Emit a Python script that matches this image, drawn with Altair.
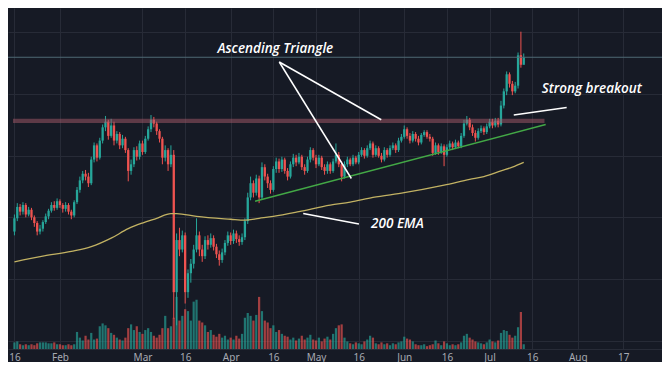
import altair as alt
import pandas as pd

# ---------------- data (price units arbitrary) ----------------
start_date = "2020-01-16"

opens = [13.4, 14.8, 16.0, 15.5, 16.2, 15.2, 15.7, 14.9, 14.3, 13.4,
         13.7, 14.4, 15.0, 15.6, 16.2, 15.9, 16.6, 16.2, 15.8, 16.2,
         15.5, 15.1, 16.5, 17.8, 18.8, 19.5, 19.2, 18.5, 21.0, 22.5,
         21.2, 23.0, 24.4, 25.0, 23.5, 24.6, 23.0, 23.7, 22.5, 23.2,
         22.0, 19.8, 20.5, 22.0, 21.3, 22.7, 21.8, 23.2, 24.2, 25.2,
         24.8, 24.0, 23.2, 21.2, 22.0, 20.5, 21.5, 7.0, 12.5, 11.5,
         13.0, 7.0, 9.0, 10.0, 11.5, 13.0, 11.5, 10.8, 12.5, 12.0,
         12.7, 11.8, 11.0, 10.4, 11.2, 12.2, 13.0, 12.4, 13.2, 12.6,
         12.3, 12.8, 14.5, 17.0, 18.5, 17.5, 19.0, 17.0, 20.2, 19.2,
         18.5, 17.8, 20.0, 20.8, 20.0, 21.0, 19.8, 19.2, 20.5, 21.2,
         20.7, 21.3, 20.2, 19.8, 21.0, 22.0, 21.2, 20.5, 21.2, 20.2,
         19.8, 20.5, 19.8, 20.8, 21.5, 20.5, 19.2, 20.5, 21.0, 20.5,
         21.2, 20.7, 21.5, 22.0, 21.4, 22.2, 22.7, 21.5, 22.2, 21.4,
         21.0, 22.0, 21.5, 22.2, 22.5, 22.0, 23.0, 23.4, 24.2, 23.5,
         23.0, 23.7, 23.2, 22.8, 23.6, 23.9, 23.4, 23.2, 21.7, 22.5,
         21.8, 22.4, 21.5, 22.3, 22.7, 22.3, 22.8, 22.4, 23.5, 24.8,
         25.2, 24.4, 23.8, 23.3, 24.0, 24.3, 23.9, 24.5, 25.0, 24.6,
         25.1, 24.7, 26.7, 28.2, 30.0, 29.0, 28.2, 28.8, 32.0, 31.0]

closes = [14.8, 16.0, 15.5, 16.2, 15.2, 15.7, 14.9, 14.3, 13.4, 13.7,
          14.4, 15.0, 15.6, 16.2, 15.9, 16.6, 16.2, 15.8, 16.2, 15.5,
          15.1, 16.5, 17.8, 18.8, 19.5, 19.2, 18.5, 21.0, 22.5, 21.2,
          23.0, 24.4, 25.0, 23.5, 24.6, 23.0, 23.7, 22.5, 23.2, 22.0,
          19.8, 20.5, 22.0, 21.3, 22.7, 21.8, 23.2, 24.2, 25.2, 24.8,
          24.0, 23.2, 21.2, 22.0, 20.5, 21.5, 7.0, 12.5, 11.5, 13.0,
          7.0, 9.0, 10.0, 11.5, 13.0, 11.5, 10.8, 12.5, 12.0, 12.7,
          11.8, 11.0, 10.4, 11.2, 12.2, 13.0, 12.4, 13.2, 12.6, 12.3,
          12.8, 14.5, 17.0, 18.5, 17.5, 19.0, 17.0, 20.2, 19.2, 18.5,
          17.8, 20.0, 20.8, 20.0, 21.0, 19.8, 19.2, 20.5, 21.2, 20.7,
          21.3, 20.2, 19.8, 21.0, 22.0, 21.2, 20.5, 21.2, 20.2, 19.8,
          20.5, 19.8, 20.8, 21.5, 20.5, 19.2, 20.5, 21.0, 20.5, 21.2,
          20.7, 21.5, 22.0, 21.4, 22.2, 22.7, 21.5, 22.2, 21.4, 21.0,
          22.0, 21.5, 22.2, 22.5, 22.0, 23.0, 23.4, 24.2, 23.5, 23.0,
          23.7, 23.2, 22.8, 23.6, 23.9, 23.4, 23.2, 21.7, 22.5, 21.8,
          22.4, 21.5, 22.3, 22.7, 22.3, 22.8, 22.4, 23.5, 24.8, 25.2,
          24.4, 23.8, 23.3, 24.0, 24.3, 23.9, 24.5, 25.0, 24.6, 25.1,
          24.7, 26.7, 28.2, 30.0, 29.0, 28.2, 28.8, 32.0, 31.0, 31.8]

highs = [15.2, 16.4, 16.3, 16.5, 16.4, 16.0, 15.9, 15.1, 14.5, 14.1,
         14.6, 15.3, 15.8, 16.5, 16.6, 16.9, 16.8, 16.4, 16.5, 16.4,
         15.7, 16.7, 18.1, 19.2, 19.8, 19.9, 19.6, 21.3, 22.8, 22.7,
         23.3, 24.7, 25.6, 25.2, 25.3, 25.0, 24.0, 23.9, 23.6, 23.4,
         22.2, 21.0, 22.3, 22.4, 23.0, 23.0, 23.5, 24.5, 25.7, 25.5,
         25.0, 24.2, 23.4, 22.5, 22.2, 22.5, 22.0, 13.2, 13.8, 13.5,
         13.3, 9.4, 10.5, 12.0, 14.8, 13.4, 12.0, 12.9, 13.0, 13.2,
         13.0, 12.1, 11.4, 11.6, 12.5, 13.4, 13.3, 13.6, 13.5, 13.0,
         13.2, 14.8, 17.5, 19.2, 18.8, 19.4, 19.3, 20.7, 20.5, 19.5,
         18.8, 20.3, 21.2, 21.1, 21.3, 21.2, 20.1, 20.8, 21.6, 21.5,
         21.7, 21.5, 20.5, 21.3, 22.3, 22.2, 21.5, 21.5, 21.4, 20.5,
         20.8, 20.7, 21.1, 22.7, 21.8, 20.8, 20.8, 21.3, 21.2, 21.5,
         21.4, 21.8, 22.3, 22.2, 22.5, 23.0, 22.9, 22.5, 22.4, 21.7,
         22.3, 22.2, 22.5, 22.8, 22.7, 23.3, 23.7, 24.6, 24.4, 23.8,
         24.0, 23.9, 23.5, 23.8, 24.1, 24.1, 23.7, 23.4, 22.8, 22.7,
         22.7, 22.6, 22.6, 23.0, 22.9, 23.1, 23.0, 23.8, 25.2, 25.6,
         25.4, 24.7, 24.1, 24.3, 24.6, 24.5, 24.8, 25.3, 25.3, 25.4,
         25.4, 27.2, 28.5, 30.3, 30.2, 29.3, 29.2, 32.3, 34.5, 32.2]

lows = [13.0, 14.5, 15.1, 15.2, 14.9, 15.0, 14.6, 13.9, 13.0, 13.1,
        13.4, 14.2, 14.7, 15.4, 15.6, 15.7, 15.9, 15.4, 15.5, 15.2,
        14.7, 14.9, 16.3, 17.5, 18.5, 18.8, 18.1, 18.3, 20.7, 20.8,
        21.0, 22.7, 24.0, 23.1, 23.3, 22.5, 22.7, 22.1, 22.2, 21.7,
        18.7, 19.4, 20.2, 20.9, 21.0, 21.5, 21.6, 23.0, 23.9, 24.4,
        23.6, 22.8, 20.5, 20.8, 19.8, 20.2, 4.2, 3.5, 10.8, 11.2,
        5.8, 6.4, 8.0, 9.5, 11.2, 10.8, 10.2, 10.5, 11.5, 11.7,
        11.4, 10.6, 9.8, 10.1, 10.9, 11.9, 12.0, 12.1, 12.2, 11.9,
        12.0, 12.5, 14.2, 16.7, 17.0, 17.2, 16.4, 16.8, 18.8, 18.0,
        17.4, 17.6, 19.6, 19.6, 19.7, 19.5, 18.8, 19.0, 20.2, 20.3,
        20.5, 19.9, 19.4, 19.6, 20.7, 20.9, 20.1, 20.3, 19.9, 19.4,
        19.5, 19.5, 19.6, 20.6, 20.2, 18.7, 19.0, 20.2, 20.3, 20.3,
        20.5, 20.5, 21.3, 21.1, 21.2, 22.0, 21.2, 21.3, 21.2, 20.7,
        20.8, 21.2, 21.3, 22.0, 21.7, 21.8, 22.8, 23.2, 23.2, 22.7,
        22.8, 22.9, 22.5, 22.6, 23.4, 23.2, 22.9, 21.4, 21.5, 21.5,
        21.6, 20.3, 21.3, 22.1, 22.0, 22.1, 22.2, 22.2, 23.3, 24.6,
        24.1, 23.5, 22.9, 23.1, 23.8, 23.6, 23.7, 24.3, 24.3, 24.4,
        24.4, 24.5, 26.4, 27.8, 28.6, 27.8, 28.0, 28.5, 30.7, 31.2]

volumes = [7, 8, 5, 4, 5, 4, 5, 4, 6, 7,
           7, 7, 6, 6, 7, 5, 5, 4, 4, 5,
           4, 5, 18, 12, 9, 14, 10, 17, 10, 11,
           24, 27, 25, 22, 17, 15, 12, 10, 9, 12,
           22, 26, 20, 24, 18, 16, 20, 22, 18, 14,
           12, 15, 22, 35, 22, 24, 33, 55, 30, 35,
           42, 40, 30, 50, 52, 30, 28, 25, 18, 20,
           15, 13, 16, 12, 14, 10, 12, 10, 14, 11,
           16, 33, 38, 35, 30, 36, 55, 40, 30, 28,
           22, 25, 18, 20, 16, 14, 13, 10, 12, 9,
           11, 14, 10, 12, 15, 10, 9, 12, 8, 11,
           13, 10, 16, 22, 25, 26, 12, 8, 6, 5,
           7, 6, 5, 8, 10, 14, 12, 6, 5, 7,
           5, 6, 4, 6, 5, 7, 8, 13, 11, 10,
           8, 5, 4, 4, 5, 3, 4, 5, 9, 6,
           4, 8, 6, 4, 5, 4, 5, 7, 14, 16,
           12, 10, 8, 7, 6, 5, 7, 10, 8, 7,
           9, 17, 20, 19, 15, 12, 14, 23, 39, 5]

ema_dates = ["2020-01-16", "2020-01-26", "2020-02-05", "2020-02-12", "2020-02-19",
             "2020-02-25", "2020-03-01", "2020-03-06", "2020-03-11", "2020-03-13",
             "2020-03-20", "2020-04-01", "2020-04-06", "2020-04-11", "2020-04-16",
             "2020-04-25", "2020-05-06", "2020-05-13", "2020-05-21", "2020-06-01",
             "2020-06-15", "2020-06-24", "2020-06-29", "2020-07-05", "2020-07-09",
             "2020-07-13"]
ema_values = [10.2, 10.8, 11.3, 11.8, 12.7, 13.7, 14.3, 14.8, 15.3, 15.3,
              15.0, 14.7, 14.6, 14.8, 15.0, 15.5, 16.2, 16.5, 17.0, 17.5,
              18.3, 18.9, 19.2, 19.8, 20.2, 20.7]

current_price = 31.8
resistance_low, resistance_high = 24.85, 25.3
resistance_end = "2020-07-20T07:00:00Z"

trend_start = ("2020-04-09T14:00:00Z", 16.6)
trend_end = ("2020-07-20T17:00:00Z", 24.7)

pointer_x = ["2020-04-18T02:00:00Z", "2020-04-18T02:00:00Z", "2020-04-26T12:00:00Z", "2020-07-09T12:00:00Z"]
pointer_y = [31.3, 31.3, 15.3, 25.7]
pointer_x2 = ["2020-05-13T10:00:00Z", "2020-05-23T22:00:00Z", "2020-05-16T02:00:00Z", "2020-07-28T02:00:00Z"]
pointer_y2 = [19.0, 25.2, 14.2, 26.5]

label_texts = ["Ascending Triangle", "200 EMA", "Strong breakout"]
label_x = ["2020-04-16T17:00:00Z", "2020-05-29T14:00:00Z", "2020-08-05T22:00:00Z"]
label_y = [32.7, 14.2, 28.4]

tick_dates = ["2020-01-16", "2020-02-01", "2020-03-01", "2020-03-16", "2020-04-01",
              "2020-04-16", "2020-05-01", "2020-05-16", "2020-06-01", "2020-06-16",
              "2020-07-01", "2020-07-16", "2020-08-01", "2020-08-17"]
grid_prices = [1.85, 3.48, 5.11, 6.74, 8.37, 10.0, 11.63, 13.26, 14.89, 16.52, 18.15,
               19.78, 21.41, 23.04, 24.67, 26.3, 27.93, 29.56, 31.19, 32.82, 34.45, 36.08]

x_start, x_end = "2020-01-15T12:00:00Z", "2020-08-28T20:00:00Z"
price_domain = [1, 37]
volume_domain = [0, 360]

# ---------------- styling ----------------
BG = "#161a25"
GRID = "#272b37"
UP = "#26a69a"
DOWN = "#ef5350"


def ms(s):
    t = pd.Timestamp(s)
    if t.tzinfo is None:
        t = t.tz_localize("UTC")
    return int(t.value // 10**6)


dates = pd.date_range(start_date, periods=len(closes), freq="D")
df = pd.DataFrame({
    "date": dates.strftime("%Y-%m-%dT00:00:00Z"),
    "open": opens, "close": closes, "high": highs, "low": lows, "volume": volumes,
})
df["dir"] = ["up" if c >= o else "down" for o, c in zip(opens, closes)]

ema_df = pd.DataFrame({"date": [d + "T00:00:00Z" for d in ema_dates], "ema": ema_values})

xscale = alt.Scale(type="utc", domain=[ms(x_start), ms(x_end)])
yscale = alt.Scale(domain=price_domain, nice=False, zero=False)
color = alt.Color("dir:N", scale=alt.Scale(domain=["up", "down"], range=[UP, DOWN]), legend=None)

xaxis = alt.Axis(
    values=[ms(d) for d in tick_dates], grid=True, gridColor=GRID, gridWidth=1,
    ticks=False, domain=True, domainColor=GRID, title=None, labelFlush=False,
    labelExpr="utcdate(datum.value) == 1 ? utcFormat(datum.value, '%b') : '' + utcdate(datum.value)",
    labelColor="#a7aab3", labelFontSize=10, labelFont="Noto Sans", labelPadding=3,
)
yaxis = alt.Axis(values=grid_prices, grid=True, gridColor=GRID, gridWidth=1,
                 labels=False, ticks=False, domain=False, title=None)

base = alt.Chart(df).encode(x=alt.X("date:T", scale=xscale, axis=xaxis))

volume = base.mark_bar(size=2.2, opacity=0.65).encode(
    y=alt.Y("volume:Q", scale=alt.Scale(domain=volume_domain, nice=False), axis=None),
    color=color,
)

wicks = base.mark_rule(strokeWidth=1).encode(
    y=alt.Y("low:Q", scale=yscale, axis=yaxis), y2="high:Q", color=color)
bodies = base.mark_bar(size=2.3).encode(y=alt.Y("open:Q", scale=yscale), y2="close:Q", color=color)

ema = alt.Chart(ema_df).mark_line(color="#c2b263", strokeWidth=1.3, interpolate="monotone").encode(
    x=alt.X("date:T", scale=xscale), y=alt.Y("ema:Q", scale=yscale))

band_df = pd.DataFrame({"x": [x_start], "x2": [resistance_end], "y": [resistance_low], "y2": [resistance_high]})
band = alt.Chart(band_df).mark_rect(color="#a65a69", opacity=0.5).encode(
    x=alt.X("x:T", scale=xscale), x2="x2:T", y=alt.Y("y:Q", scale=yscale), y2="y2:Q")

price_df = pd.DataFrame({"y": [current_price]})
price_line = alt.Chart(price_df).mark_rule(color="#4f6a74", strokeWidth=1).encode(
    y=alt.Y("y:Q", scale=yscale))

trend_df = pd.DataFrame({"x": [trend_start[0]], "y": [trend_start[1]],
                         "x2": [trend_end[0]], "y2": [trend_end[1]]})
trend = alt.Chart(trend_df).mark_rule(color="#43a846", strokeWidth=1.4).encode(
    x=alt.X("x:T", scale=xscale), x2="x2:T", y=alt.Y("y:Q", scale=yscale), y2="y2:Q")

ptr_df = pd.DataFrame({"x": pointer_x, "y": pointer_y, "x2": pointer_x2, "y2": pointer_y2})
pointers = alt.Chart(ptr_df).mark_rule(color="#ffffff", strokeWidth=1.5).encode(
    x=alt.X("x:T", scale=xscale), x2="x2:T", y=alt.Y("y:Q", scale=yscale), y2="y2:Q")

lab_df = pd.DataFrame({"x": label_x, "y": label_y, "t": label_texts})
labels = alt.Chart(lab_df).mark_text(
    color="#ffffff", font="Open Sans", fontStyle="italic", fontWeight=600, fontSize=13.5,
    align="center", baseline="middle").encode(
    x=alt.X("x:T", scale=xscale), y=alt.Y("y:Q", scale=yscale), text="t:N")

chart = alt.layer(
    volume, alt.layer(wicks, bodies, ema, band, price_line, trend, pointers, labels)
).resolve_scale(y="independent").properties(
    width=654, height=341, background=BG,
    autosize=alt.AutoSizeParams(type="none"),
    padding={"left": 0, "top": 0, "right": 0, "bottom": 13},
).configure_view(strokeWidth=0, fill=BG)

chart.save("out.html", embed_options={"renderer": "svg", "actions": False})
